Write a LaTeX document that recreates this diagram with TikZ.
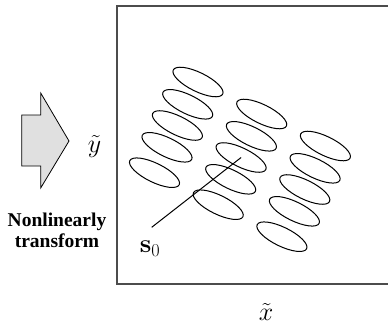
\RequirePackage{fix-cm}
\documentclass[tikz,border=0pt]{standalone}
\usepackage[no-math]{fontspec}
\setmainfont{Liberation Serif}
\usepackage{amsmath}
\usetikzlibrary{shapes.geometric, positioning}

\begin{document}
\begin{tikzpicture}[x=1pt, y=-1pt,
    blob/.style={ellipse, draw=black, line width=1pt, inner sep=0pt, minimum width=55pt, minimum height=19pt, rotate=-26},
    mathlbl/.style={inner sep=0pt, font=\fontsize{26}{30}\selectfont},
    frame/.style={draw=black!70, line width=1.3pt}]

\useasboundingbox (0,0) rectangle (388,327);

% block arrow on the left
\filldraw [fill=black!12, draw=black, line width=0.8pt]
    (21.7,115) -- (40.7,115) -- (40.7,93) -- (69,141) -- (40.7,188) -- (40.7,166) -- (21.7,166) -- cycle;
\node (trans) [align=center, inner sep=0pt, font=\bfseries\fontsize{19.5}{21}\selectfont] at (57,230) {Nonlinearly\\transform};

% plane
\draw [frame] (388,6) -- (117,6) -- (117,284) -- (388,284);
\node (ylab) [mathlbl] at (94.5,146) {$\tilde{y}$};
\node (xlab) [mathlbl] at (266,312) {$\tilde{x}$};

% lattice of ellipses
\foreach \dx/\dy [count=\r] in {0/0, -10.3/22.3, -20.6/43.5, -31/65.3, -43.5/90.7}
  \foreach \c in {1,2,3}
    \node (e\c\r) [blob] at ({198+63.7*(\c-1)+\dx},{82+32*(\c-1)+\dy}) {};

\node (s0) [mathlbl] at (150,249) {$\mathbf{s}_0$};
\coordinate (s0tip) at (151.7,227.3);
\draw [line width=1pt] (s0tip) -- (e23.center);

\end{tikzpicture}
\end{document}
